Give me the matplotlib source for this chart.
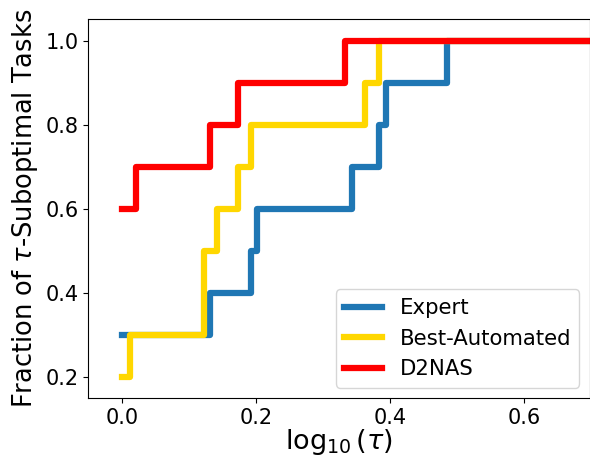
import matplotlib
matplotlib.use("Agg")
import matplotlib.pyplot as plt

# performance profile: log10(tau) where each step happens, and fraction after it
expert_x = [0.0, 0.131, 0.192, 0.201, 0.343, 0.383, 0.393, 0.484, 1.0]
expert_y = [0.3, 0.4, 0.5, 0.6, 0.7, 0.8, 0.9, 1.0, 1.0]

auto_x = [0.0, 0.0105, 0.122, 0.141, 0.172, 0.192, 0.362, 0.383, 1.0]
auto_y = [0.2, 0.3, 0.5, 0.6, 0.7, 0.8, 0.9, 1.0, 1.0]

d2nas_x = [0.0, 0.020, 0.131, 0.172, 0.332, 1.0]
d2nas_y = [0.6, 0.7, 0.8, 0.9, 1.0, 1.0]

labels = ["Expert", "Best-Automated", "D2NAS"]
colors = ["#1f77b4", "#FFD700", "#FF0000"]

fig = plt.figure(figsize=(5.9, 4.59), dpi=100)
ax = fig.add_axes([0.1497, 0.1322, 0.8503, 0.8258])

for xs, ys, lab, c in zip([expert_x, auto_x, d2nas_x],
                          [expert_y, auto_y, d2nas_y], labels, colors):
    ax.step(xs, ys, where="post", color=c, linewidth=4.5, label=lab)

ax.set_xlim(-0.051, 0.698)
ax.set_ylim(0.1486, 1.051)
ax.set_xticks([0.0, 0.2, 0.4, 0.6])
ax.set_yticks([0.2, 0.4, 0.6, 0.8, 1.0])
ax.tick_params(labelsize=15)
ax.set_xlabel(r"$\log_{10}(\tau)$", fontsize=19.5, labelpad=-1)
ax.set_ylabel(r"Fraction of $\tau$-Suboptimal Tasks", fontsize=18.5)
ax.legend(loc="lower right", fontsize=15.3, handlelength=1.8)

fig.savefig("out.png", dpi=100)
